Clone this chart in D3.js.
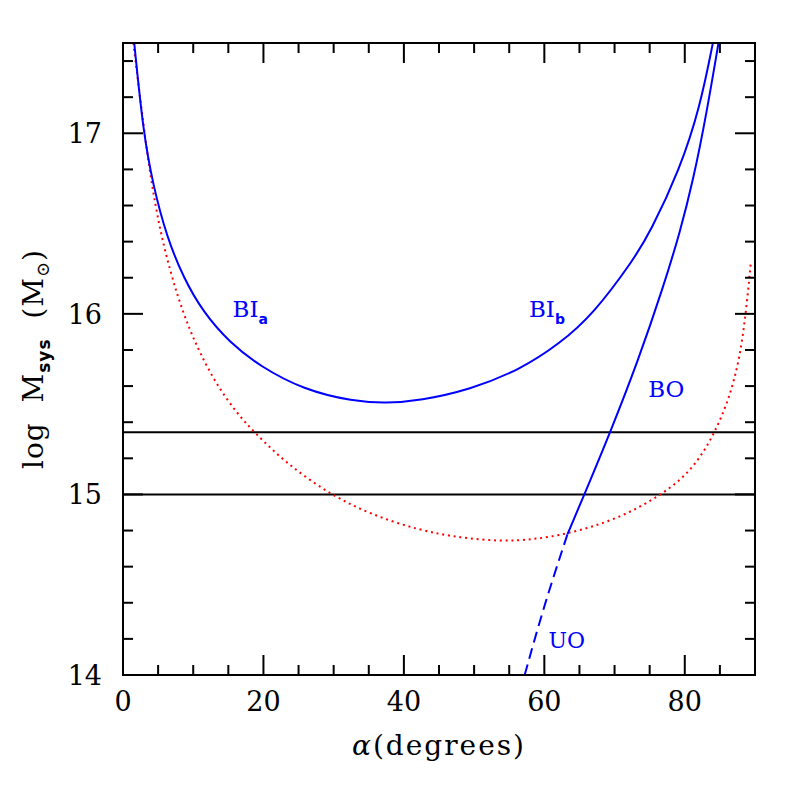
<!DOCTYPE html>
<html>
<head>
<meta charset="utf-8">
<script src="https://cdnjs.cloudflare.com/ajax/libs/d3/7.8.5/d3.min.js"></script>
<style>
  body { margin: 0; background: #fff; }
  svg { display: block; }
</style>
</head>
<body>
<div class="g-chart-container"></div>
<script>
// curve points: [alpha (degrees), log M]
var biCurve = [
  [1.6, 17.5], [2.9, 17.0], [4.3, 16.71], [6.2, 16.43], [8.6, 16.2],
  [11.4, 16.01], [15.2, 15.84], [19.5, 15.71], [25.7, 15.58], [32.8, 15.515],
  [37.5, 15.505], [42.3, 15.52], [49.4, 15.58], [56.5, 15.69], [62.2, 15.835],
  [67.0, 16.0], [72.7, 16.3], [75.05, 16.45], [79.3, 16.8], [82.2, 17.15], [84.0, 17.5]
];
var redCurve = [
  [1.47, 17.5], [2.42, 17.2], [3.4, 16.9], [4.5, 16.62], [5.8, 16.37],
  [7.65, 16.11], [9.3, 15.93], [11.0, 15.78], [13.3, 15.61], [16.2, 15.45],
  [18.8, 15.34], [23.3, 15.17], [29.5, 15.0], [35.2, 14.89], [42.3, 14.8],
  [48.0, 14.76], [53.7, 14.74], [58.4, 14.75], [63.2, 14.78], [70.3, 14.86],
  [76.9, 15.0], [81.2, 15.14], [84.3, 15.34], [86.4, 15.54], [87.8, 15.75],
  [88.7, 16.0], [89.4, 16.28]
];
var boCurve = [
  [63.3, 14.78], [65.7, 15.0], [69.35, 15.34], [73.4, 15.745], [76.95, 16.15],
  [79.3, 16.45], [81.2, 16.74], [83.1, 17.11], [84.8, 17.5]
];
var uoCurve = [
  [57.2, 14.0], [60.0, 14.39], [63.3, 14.78]
];
var hLines = [15.0, 15.345];
var xTicks = [0, 20, 40, 60, 80];
var yTicks = [14, 15, 16, 17];

var width = 797;
var height = 797;
var margin = {left: 123, right: 42, top: 43, bottom: 122};

var x = d3.scaleLinear().domain([0, 90]).range([margin.left, width - margin.right]);
var y = d3.scaleLinear().domain([14, 17.5]).range([height - margin.bottom, margin.top]);

var svg = d3.select(".g-chart-container")
  .append("svg")
  .attr("width", width)
  .attr("height", height);

svg.append("defs").append("clipPath")
  .attr("id", "plot-clip")
  .append("rect")
  .attr("x", x(0)).attr("y", y(17.5))
  .attr("width", x(90) - x(0)).attr("height", y(14) - y(17.5));

var plot = svg.append("g").attr("clip-path", "url(#plot-clip)");

var line = d3.line()
  .x(function(d){ return x(d[0]); })
  .y(function(d){ return y(d[1]); })
  .curve(d3.curveBasis);

// horizontal reference lines
plot.selectAll(".h-line")
  .data(hLines)
  .enter()
  .append("line")
  .attr("x1", x(0)).attr("x2", x(90))
  .attr("y1", function(d){ return y(d); })
  .attr("y2", function(d){ return y(d); })
  .style("stroke", "#000")
  .style("stroke-width", 2);

plot.append("path")
  .datum(redCurve)
  .attr("d", line)
  .style("fill", "none")
  .style("stroke", "#ff0000")
  .style("stroke-width", 2)
  .style("stroke-dasharray", "2,3.8");

plot.append("path")
  .datum(biCurve)
  .attr("d", line)
  .style("fill", "none")
  .style("stroke", "#0000ff")
  .style("stroke-width", 2);

plot.append("path")
  .datum(boCurve)
  .attr("d", line)
  .style("fill", "none")
  .style("stroke", "#0000ff")
  .style("stroke-width", 2);

plot.append("path")
  .datum(uoCurve)
  .attr("d", line)
  .style("fill", "none")
  .style("stroke", "#0000ff")
  .style("stroke-width", 2)
  .style("stroke-dasharray", "11,6");

// frame + ticks on all four sides
var frame = svg.append("g");
frame.append("rect")
  .attr("x", x(0)).attr("y", y(17.5))
  .attr("width", x(90) - x(0)).attr("height", y(14) - y(17.5))
  .style("fill", "none")
  .style("stroke", "#000")
  .style("stroke-width", 2);

var xMinor = d3.range(0, 91, 5);
var yMinor = d3.range(14, 17.51, 0.2);

function isMajorX(d){ return d % 20 === 0; }
function isMajorY(d){ return Math.abs(d - Math.round(d)) < 1e-6; }

frame.selectAll(".x-tick-b")
  .data(xMinor)
  .enter()
  .append("line")
  .attr("x1", function(d){ return x(d); })
  .attr("x2", function(d){ return x(d); })
  .attr("y1", y(14))
  .attr("y2", function(d){ return y(14) - (isMajorX(d) ? 20 : 10); })
  .style("stroke", "#000").style("stroke-width", 2);

frame.selectAll(".x-tick-t")
  .data(xMinor)
  .enter()
  .append("line")
  .attr("x1", function(d){ return x(d); })
  .attr("x2", function(d){ return x(d); })
  .attr("y1", y(17.5))
  .attr("y2", function(d){ return y(17.5) + (isMajorX(d) ? 20 : 10); })
  .style("stroke", "#000").style("stroke-width", 2);

frame.selectAll(".y-tick-l")
  .data(yMinor)
  .enter()
  .append("line")
  .attr("y1", function(d){ return y(d); })
  .attr("y2", function(d){ return y(d); })
  .attr("x1", x(0))
  .attr("x2", function(d){ return x(0) + (isMajorY(d) ? 20 : 10); })
  .style("stroke", "#000").style("stroke-width", 2);

frame.selectAll(".y-tick-r")
  .data(yMinor)
  .enter()
  .append("line")
  .attr("y1", function(d){ return y(d); })
  .attr("y2", function(d){ return y(d); })
  .attr("x1", x(90))
  .attr("x2", function(d){ return x(90) - (isMajorY(d) ? 20 : 10); })
  .style("stroke", "#000").style("stroke-width", 2);

// tick labels
var serif = "'DejaVu Serif', serif";
svg.selectAll(".x-label")
  .data(xTicks)
  .enter()
  .append("text")
  .attr("x", function(d){ return x(d); })
  .attr("y", y(14) + 36)
  .attr("text-anchor", "middle")
  .style("font-family", serif)
  .style("font-size", "27px")
  .text(function(d){ return d; });

svg.selectAll(".y-label")
  .data(yTicks)
  .enter()
  .append("text")
  .attr("x", x(0) - 21)
  .attr("y", function(d){ return y(d); })
  .attr("dy", "0.36em")
  .attr("text-anchor", "end")
  .style("font-family", serif)
  .style("font-size", "27px")
  .text(function(d){ return d; });

// axis titles
var xTitle = svg.append("text")
  .attr("x", (x(0) + x(90)) / 2)
  .attr("y", 755)
  .attr("text-anchor", "middle")
  .style("font-family", serif)
  .style("font-size", "28px")
  .style("letter-spacing", "2px");
xTitle.append("tspan").style("font-style", "italic").text("\u03b1");
xTitle.append("tspan").text("(degrees)");

var yTitle = svg.append("text")
  .attr("transform", "translate(43," + ((y(14) + y(17.5)) / 2) + ") rotate(-90)")
  .attr("text-anchor", "middle")
  .style("font-family", serif)
  .style("font-size", "28px")
  .style("letter-spacing", "1px")
  .style("white-space", "pre");
yTitle.append("tspan").text("log  M");
yTitle.append("tspan").attr("dy", 7).style("font-family", "'DejaVu Sans', sans-serif")
  .style("font-weight", "bold").style("font-size", "17px").text("sys");
yTitle.append("tspan").attr("dy", -7).text("  (M");
yTitle.append("tspan").attr("dy", 6).style("font-size", "18px").text("\u2299");
yTitle.append("tspan").attr("dy", -6).text(")");

// curve labels
var labels = [
  {name: "BI", sub: "a", a: 15.6, v: 15.98},
  {name: "BI", sub: "b", a: 57.8, v: 15.98},
  {name: "BO", sub: "", a: 74.8, v: 15.54}
];
labels.forEach(function(l){
  var t = svg.append("text")
    .attr("x", x(l.a))
    .attr("y", y(l.v))
    .style("font-family", serif)
    .style("font-size", "23px")
    .style("fill", "#0000ff");
  t.append("tspan").text(l.name);
  if (l.sub) {
    t.append("tspan").attr("dy", 7)
      .style("font-family", "'DejaVu Sans', sans-serif")
      .style("font-weight", "bold")
      .style("font-size", "14px")
      .text(l.sub);
  }
});

svg.append("text")
  .attr("x", x(60.6))
  .attr("y", y(14.15))
  .style("font-family", serif)
  .style("font-size", "22px")
  .style("fill", "#0000ff")
  .text("UO");
</script>
</body>
</html>
